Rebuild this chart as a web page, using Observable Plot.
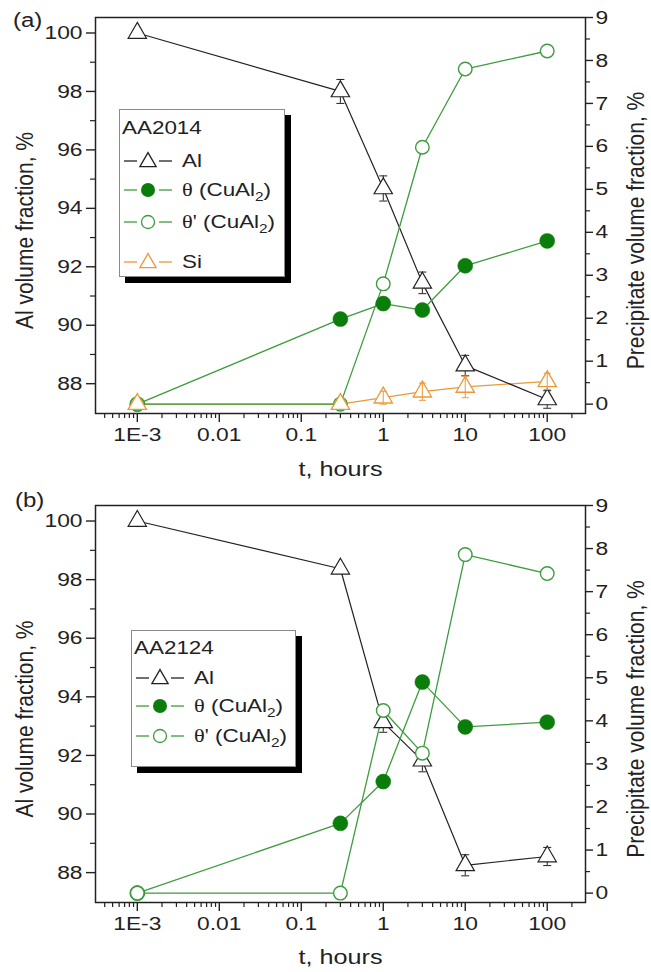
<!DOCTYPE html>
<html>
<head>
<meta charset="utf-8">
<script src="https://cdn.jsdelivr.net/npm/d3@7"></script>
<script src="https://cdn.jsdelivr.net/npm/@observablehq/plot@0.6"></script>
<style>
  html, body { margin: 0; padding: 0; background: #fff; }
  #wrap { position: relative; width: 651px; height: 972px; font-family: "Liberation Sans", Arial, sans-serif; color: #222; }
  .panel { position: relative; width: 651px; height: 486px; }
  .panel svg { display: block; }
  .plabel { position: absolute; font-size: 20px; line-height: 20px; transform: scaleX(1.2); transform-origin: left center; white-space: nowrap; }
  .legend { position: absolute; background: #fff; border: 1px solid #8a8a8a; box-shadow: 6px 6px 0 #000; box-sizing: border-box; }
  .row { position: absolute; left: 0; height: 26px; width: 100%; }
  .row svg { position: absolute; left: 3px; top: 3px; }
  .row .txt { position: absolute; left: 62px; top: 0; line-height: 26px; font-size: 19px; white-space: nowrap; transform: scaleX(1.18); transform-origin: left center; }
  .row .hdr { left: 2px; }
  .serif { font-family: "Liberation Serif", "Times New Roman", serif; }
  sub { font-size: 13px; vertical-align: -5px; line-height: 0; }
</style>
</head>
<body>
<div id="wrap">
  <div class="panel" id="pa"></div>
  <div class="panel" id="pb"></div>
</div>
<script>
// ---------- data ----------
const times = [0.001, 0.3, 1, 3, 10, 100];
const xTickValues = [0.001, 0.01, 0.1, 1, 10, 100];
const xTickLabels = ["1E-3", "0.01", "0.1", "1", "10", "100"];
const leftTicks = [88, 90, 92, 94, 96, 98, 100];
const leftMinorTicks = [89, 91, 93, 95, 97, 99];
const rightTicks = [0, 1, 2, 3, 4, 5, 6, 7, 8, 9];
const rightMinorTicks = [0.5, 1.5, 2.5, 3.5, 4.5, 5.5, 6.5, 7.5, 8.5];

// panel (a) AA2014
const alA = [100, 98.0, 94.68, 91.45, 88.62, 87.46];
const alAErr = [0, 0.41, 0.43, 0.37, 0.35, 0.3];
const thetaA = [0, 1.98, 2.34, 2.19, 3.22, 3.8];
const thetaPrimeA = [0, 0, 2.8, 5.98, 7.8, 8.22];
const siA = [0, 0, 0.15, 0.29, 0.4, 0.53];
const siAErr = [0, 0, 0.15, 0.2, 0.25, 0.19];

// panel (b) AA2124
const alB = [100, 98.37, 93.13, 91.82, 88.25, 88.55];
const alBErr = [0, 0.15, 0.34, 0.38, 0.36, 0.31];
const thetaB = [0, 1.62, 2.59, 4.9, 3.86, 3.97];
const thetaPrimeB = [0, 0, 4.24, 3.25, 7.86, 7.42];

// ---------- scales ----------
const xDomain = [Math.pow(10, -3.51), Math.pow(10, 2.467)];
const yDomain = [86.98, 100.53];
const R0 = 87.30, RK = 1.47;           // right axis (precipitate %) -> left axis units
const toLeft = r => R0 + RK * r;
const fromLeft = v => (v - R0) / RK;

const BLACK = "#222", GREEN_FILL = "#0b7d0b", GREEN = "#3d9c3d", ORANGE = "#ec9838";

const xMinorTicks = [];
for (let e = -4; e <= 2; e++) for (let m = 2; m <= 9; m++) {
  const v = m * Math.pow(10, e);
  if (v >= xDomain[0] && v <= xDomain[1]) xMinorTicks.push(v);
}

const capSymbol = {draw(ctx, size) { const w = Math.sqrt(size / Math.PI); ctx.moveTo(-w, 0); ctx.lineTo(w, 0); }};

function makePlot(p) {
  const rows = times.map((t, i) => ({
    t,
    al: p.al[i], alErr: p.alErr[i],
    theta: toLeft(p.theta[i]),
    thetaP: toLeft(p.thetaPrime[i]),
    si: p.si ? toLeft(p.si[i]) : null,
    siErr: p.si ? RK * p.siErr[i] : 0
  }));
  const alE = rows.filter(d => d.alErr > 0);
  const siE = rows.filter(d => d.siErr > 0);
  const marks = [
    Plot.frame({stroke: BLACK, strokeWidth: 1.5}),
    Plot.axisX(xTickValues, {tickSize: 9, tickPadding: 5, strokeWidth: 1.4, stroke: BLACK, fill: BLACK, fontSize: 19, label: null,
      tickFormat: d => xTickLabels[xTickValues.indexOf(d)]}),
    Plot.axisX(xMinorTicks, {tickSize: 5, strokeWidth: 1.2, stroke: BLACK, fill: "none", label: null}),
    Plot.axisY(leftTicks, {anchor: "left", tickSize: 9, tickPadding: 4, strokeWidth: 1.4, stroke: BLACK, fill: BLACK, fontSize: 19, label: null}),
    Plot.axisY(leftMinorTicks, {anchor: "left", tickSize: 5, strokeWidth: 1.2, stroke: BLACK, fill: "none", label: null}),
    Plot.axisY(rightTicks.map(toLeft), {anchor: "right", tickSize: 7, tickPadding: 3, strokeWidth: 1.4, stroke: BLACK, fill: BLACK, fontSize: 19, label: null,
      tickFormat: d => String(Math.round(fromLeft(d)))}),
    Plot.axisY(rightMinorTicks.map(toLeft), {anchor: "right", tickSize: 4, strokeWidth: 1.2, stroke: BLACK, fill: "none", label: null}),
    Plot.text(["t, hours"], {text: d => d, frameAnchor: "bottom", textAnchor: "middle", lineAnchor: "middle", dy: p.titleDy, fontSize: 21, fill: BLACK}),
    Plot.text(["Al volume fraction, %"], {text: d => d, frameAnchor: "left", textAnchor: "middle", lineAnchor: "middle", dx: -70, dy: 15, rotate: -90, fontSize: 21, fill: BLACK}),
    Plot.text(["Precipitate volume fraction, %"], {text: d => d, frameAnchor: "right", textAnchor: "middle", lineAnchor: "middle", dx: 51, dy: 15, rotate: -90, fontSize: 21, fill: BLACK}),
  ];
  if (p.si) marks.push(Plot.line(rows, {x: "t", y: "si", stroke: ORANGE, strokeWidth: 1.3}));
  marks.push(
    Plot.line(rows, {x: "t", y: "al", stroke: BLACK, strokeWidth: 1.2}),
    Plot.line(rows, {x: "t", y: "theta", stroke: GREEN, strokeWidth: 1.3}),
    Plot.line(rows, {x: "t", y: "thetaP", stroke: GREEN, strokeWidth: 1.3}),
    Plot.ruleX(alE, {x: "t", y1: d => d.al - d.alErr, y2: d => d.al + d.alErr, stroke: BLACK, strokeWidth: 1}),
    Plot.dot(alE, {x: "t", y: d => d.al + d.alErr, symbol: capSymbol, r: 4, stroke: BLACK, fill: "none", strokeWidth: 1}),
    Plot.dot(alE, {x: "t", y: d => d.al - d.alErr, symbol: capSymbol, r: 4, stroke: BLACK, fill: "none", strokeWidth: 1}),
    Plot.dot(rows, {x: "t", y: "al", symbol: "triangle", r: 6.8, stroke: BLACK, fill: "white", strokeWidth: 1.2}),
    Plot.dot(rows, {x: "t", y: "theta", r: 7.5, fill: GREEN_FILL, stroke: GREEN_FILL, strokeWidth: 0.5}),
    Plot.dot(rows, {x: "t", y: "thetaP", r: 6.8, fill: "white", stroke: GREEN, strokeWidth: 1.4})
  );
  if (p.si) marks.push(
    Plot.dot(rows, {x: "t", y: "si", symbol: "triangle", r: 6.8, stroke: ORANGE, fill: "white", strokeWidth: 1.3}),
    Plot.ruleX(siE, {x: "t", y1: d => d.si - d.siErr, y2: d => d.si + d.siErr, stroke: ORANGE, strokeWidth: 1}),
    Plot.dot(siE, {x: "t", y: d => d.si + d.siErr, symbol: capSymbol, r: 3.5, stroke: ORANGE, fill: "none", strokeWidth: 1}),
    Plot.dot(siE, {x: "t", y: d => d.si - d.siErr, symbol: capSymbol, r: 3.5, stroke: ORANGE, fill: "none", strokeWidth: 1})
  );
  const svg = Plot.plot({
    width: 651, height: 486,
    marginTop: p.marginTop, marginBottom: p.marginBottom, marginLeft: 95, marginRight: 66,
    style: {fontFamily: "Liberation Sans, Arial, sans-serif", fontSize: "19px", color: BLACK, background: "white"},
    x: {type: "log", domain: xDomain, label: null},
    y: {domain: yDomain, label: null},
    marks
  });
  // horizontally widen glyphs to match the reference's stretched lettering
  svg.querySelectorAll("text").forEach(t => {
    const tr = t.getAttribute("transform") || "";
    t.setAttribute("transform", tr + (tr.includes("rotate") ? " scale(1,1.15)" : " scale(1.2,1)"));
  });
  return svg;
}

function symbolSvg(kind, color) {
  const w = 50, h = 20, cx = 25, cy = 10;
  let marker;
  if (kind === "tri") {
    const path = d3.symbol(d3.symbolTriangle, 115)();
    marker = `<path d="${path}" transform="translate(${cx},${cy + 1})" fill="white" stroke="${color}" stroke-width="1.3"/>`;
  } else if (kind === "fill") {
    marker = `<circle cx="${cx}" cy="${cy}" r="7" fill="${GREEN_FILL}"/>`;
  } else {
    marker = `<circle cx="${cx}" cy="${cy}" r="6.5" fill="white" stroke="${color}" stroke-width="1.3"/>`;
  }
  return `<svg width="${w}" height="${h}">` +
    `<line x1="1" x2="14" y1="${cy}" y2="${cy}" stroke="${color}" stroke-width="1.3"/>` +
    `<line x1="36" x2="${w - 1}" y1="${cy}" y2="${cy}" stroke="${color}" stroke-width="1.3"/>${marker}</svg>`;
}

const seriesLegend = {
  al: {kind: "tri", color: BLACK, html: "Al"},
  theta: {kind: "fill", color: GREEN, html: '<span class="serif">θ</span> (CuAl<sub>2</sub>)'},
  thetaP: {kind: "open", color: GREEN, html: '<span class="serif">θ\'</span> (CuAl<sub>2</sub>)'},
  si: {kind: "tri", color: ORANGE, html: "Si"}
};

function addOverlay(host, o) {
  const lab = document.createElement("div");
  lab.className = "plabel";
  lab.style.left = o.labelX + "px";
  lab.style.top = o.labelY + "px";
  lab.textContent = o.label;
  host.appendChild(lab);

  const lg = document.createElement("div");
  lg.className = "legend";
  Object.assign(lg.style, {left: o.box[0] + "px", top: o.box[1] + "px", width: o.box[2] + "px", height: o.box[3] + "px"});
  const hdr = document.createElement("div");
  hdr.className = "row";
  hdr.style.top = (o.rows[0] - 13) + "px";
  hdr.innerHTML = `<span class="txt hdr">${o.title}</span>`;
  lg.appendChild(hdr);
  o.series.forEach((k, i) => {
    const s = seriesLegend[k];
    const r = document.createElement("div");
    r.className = "row";
    r.style.top = (o.rows[i + 1] - 13) + "px";
    r.innerHTML = symbolSvg(s.kind, s.color) + `<span class="txt">${s.html}</span>`;
    lg.appendChild(r);
  });
  host.appendChild(lg);
}

const pa = document.getElementById("pa");
pa.appendChild(makePlot({al: alA, alErr: alAErr, theta: thetaA, thetaPrime: thetaPrimeA, si: siA, siErr: siAErr,
  marginTop: 17, marginBottom: 73, titleDy: 56}));
addOverlay(pa, {label: "(a)", labelX: 13, labelY: 10, title: "AA2014",
  box: [119, 109, 166, 168], rows: [18, 51, 80, 112, 152], series: ["al", "theta", "thetaP", "si"]});

const pb = document.getElementById("pb");
pb.appendChild(makePlot({al: alB, alErr: alBErr, theta: thetaB, thetaPrime: thetaPrimeB, si: null,
  marginTop: 19, marginBottom: 70, titleDy: 55}));
addOverlay(pb, {label: "(b)", labelX: 15, labelY: 4, title: "AA2124",
  box: [131, 144, 165, 137], rows: [17, 47, 75, 105], series: ["al", "theta", "thetaP"]});
</script>
</body>
</html>
